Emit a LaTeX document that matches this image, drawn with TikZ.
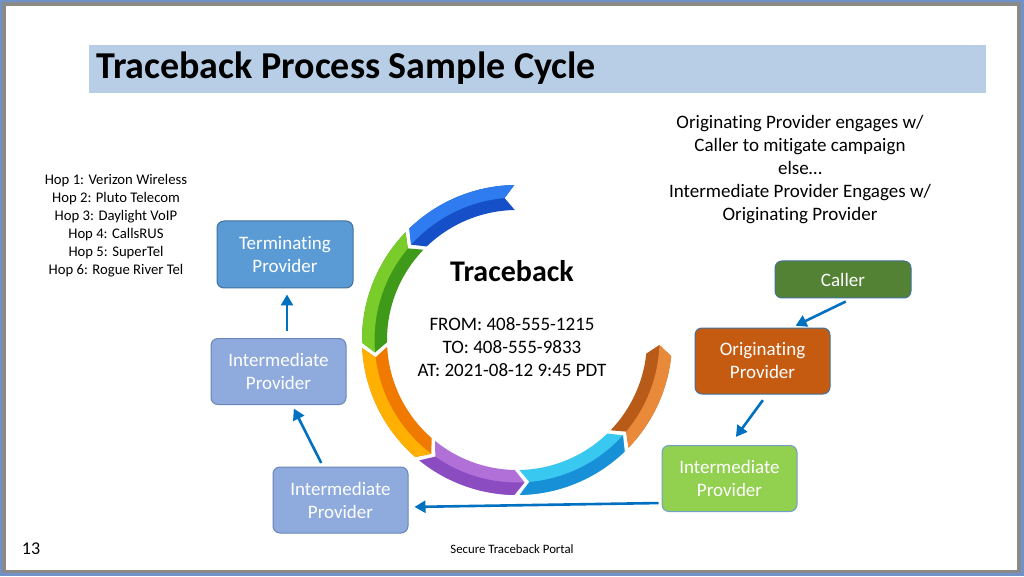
\documentclass[tikz,border=0pt]{standalone}
\usepackage{fontspec}
\setmainfont{Carlito}[Ligatures={NoCommon,NoContextual}, RawFeature={-liga;-clig;-calt;-dlig}]
\usetikzlibrary{calc,arrows.meta}
\definecolor{frameblue}{HTML}{6F93C9}
\definecolor{framegray}{HTML}{8A8A8A}
\definecolor{titlebar}{HTML}{B8CEE6}
\definecolor{termfill}{HTML}{5B9BD5}
\definecolor{termline}{HTML}{41719C}
\definecolor{intfill}{HTML}{8FAADC}
\definecolor{intline}{HTML}{6A86B8}
\definecolor{callerfill}{HTML}{548235}
\definecolor{callerline}{HTML}{41719C}
\definecolor{origfill}{HTML}{C55A11}
\definecolor{origline}{HTML}{41719C}
\definecolor{greenfill}{HTML}{92D050}
\definecolor{greenline}{HTML}{6F9FC8}
\definecolor{arrowblue}{HTML}{0070C0}
\tikzset{
  provbox/.style={rounded corners=7pt, line width=1pt, minimum width=135pt, minimum height=66pt,
    align=center, text=white, font=\fontsize{19}{23}\selectfont},
  arr/.style={draw=arrowblue, line width=2.6pt, -{Triangle[length=11pt,width=12pt]}},
  plain/.style={align=center, text=black}
}
\begin{document}
\begin{tikzpicture}[x=1pt,y=1pt]
% frame
\fill[frameblue] (0,0) rectangle (1024,576);
\fill[framegray] (2,3) rectangle (1021,574);
\fill[white] (6,6) rectangle (1017,570);
\useasboundingbox (0,0) rectangle (1024,576);
% title
\fill[titlebar] (89,483) rectangle (986,531);
\node[anchor=west, font=\fontsize{38}{42}\selectfont\bfseries, inner sep=0pt] (title) at (96,508) {Traceback Process Sample Cycle};
% ring
\coordinate (C) at (517,236);
\def\Ro{155}\def\Ri{130}\def\Rm{142.5}\def\dd{4}
\foreach \a/\b/\lt/\dk in {91/134/2E7CF0/1550C8, 136/181/7ACC2A/3E9A18, 183/229/FFB000/F07A00, 231/269/8A4CC0/B070D8, 271/314/1890D8/38C8F0, 316/354/E88A3A/B85A18}{
  \definecolor{segdk}{HTML}{\dk}
  \definecolor{seglt}{HTML}{\lt}
  \fill[segdk] ($(C)+(\a:\Ro)$) arc[start angle=\a, end angle=\b, radius=\Ro]
     -- ($(C)+(\b+\dd:\Rm)$) -- ($(C)+(\b:\Ri)$)
     arc[start angle=\b, end angle=\a, radius=\Ri] -- ($(C)+(\a+\dd:\Rm)$) -- cycle;
  \fill[seglt] ($(C)+(\a:\Ro)$) arc[start angle=\a, end angle=\b, radius=\Ro]
     -- ($(C)+(\b+\dd:\Rm)$) arc[start angle=\b+\dd, end angle=\a+\dd, radius=\Rm] -- cycle;
}
% centre text
\node[plain, font=\fontsize{30}{32}\selectfont\bfseries] (tb) at (512,305) {Traceback};
\node[plain, font=\fontsize{19}{23}\selectfont] (call) at (512,229) {FROM: 408-555-1215\\TO: 408-555-9833\\AT: 2021-08-12 9:45 PDT};
% side texts
\node[plain, font=\fontsize{14.7}{18}\selectfont] (hops) at (116,350) {Hop 1: Verizon Wireless\\Hop 2: Pluto Telecom\\Hop 3: Daylight VoIP\\Hop 4: CallsRUS\\Hop 5: SuperTel\\Hop 6: Rogue River Tel};
\node[plain, font=\fontsize{19}{23}\selectfont] (note) at (800,406) {Originating Provider engages w/\\Caller to mitigate campaign\\else\ldots\\Intermediate Provider Engages w/\\Originating Provider};
% boxes
\node[provbox, fill=termfill, draw=termline, minimum width=136pt, minimum height=67pt] (term) at (285,321.5) {Terminating\\Provider};
\node[provbox, fill=intfill, draw=intline] (intL) at (278.5,204.5) {Intermediate\\Provider};
\node[provbox, fill=intfill, draw=intline] (intB) at (340.5,76) {Intermediate\\Provider};
\node[provbox, fill=callerfill, draw=callerline, minimum width=136pt, minimum height=37pt] (caller) at (843,296.5) {Caller};
\node[provbox, fill=origfill, draw=origline] (orig) at (762.5,215) {Originating\\Provider};
\node[provbox, fill=greenfill, draw=greenline] (intG) at (729.5,97.5) {Intermediate\\Provider};
% connectors
\draw[arr, shorten <=7pt, shorten >=6pt] ([xshift=8.5pt]intL.north) -- ([xshift=2pt]term.south);
\draw[arr, shorten <=4pt, shorten >=4pt] ([xshift=-17.5pt]intB.north) -- ([xshift=13.5pt]intL.south);
\draw[arr, shorten <=3pt, shorten >=6pt] ([yshift=-24.5pt]intG.west) -- ([yshift=-7pt]intB.east);
\draw[arr, shorten <=7pt, shorten >=4pt] ([xshift=9pt]caller.south) -- ([xshift=29.5pt]orig.north);
\draw[arr, shorten <=7pt, shorten >=10pt] ([xshift=4.5pt]orig.south) -- ([xshift=0.5pt]intG.north);
% footer
\node[plain, font=\fontsize{18}{20}\selectfont] (pnum) at (31,27) {13};
\node[plain, font=\fontsize{12.8}{14}\selectfont] (foot) at (512,27) {Secure Traceback Portal};
\end{tikzpicture}
\end{document}
